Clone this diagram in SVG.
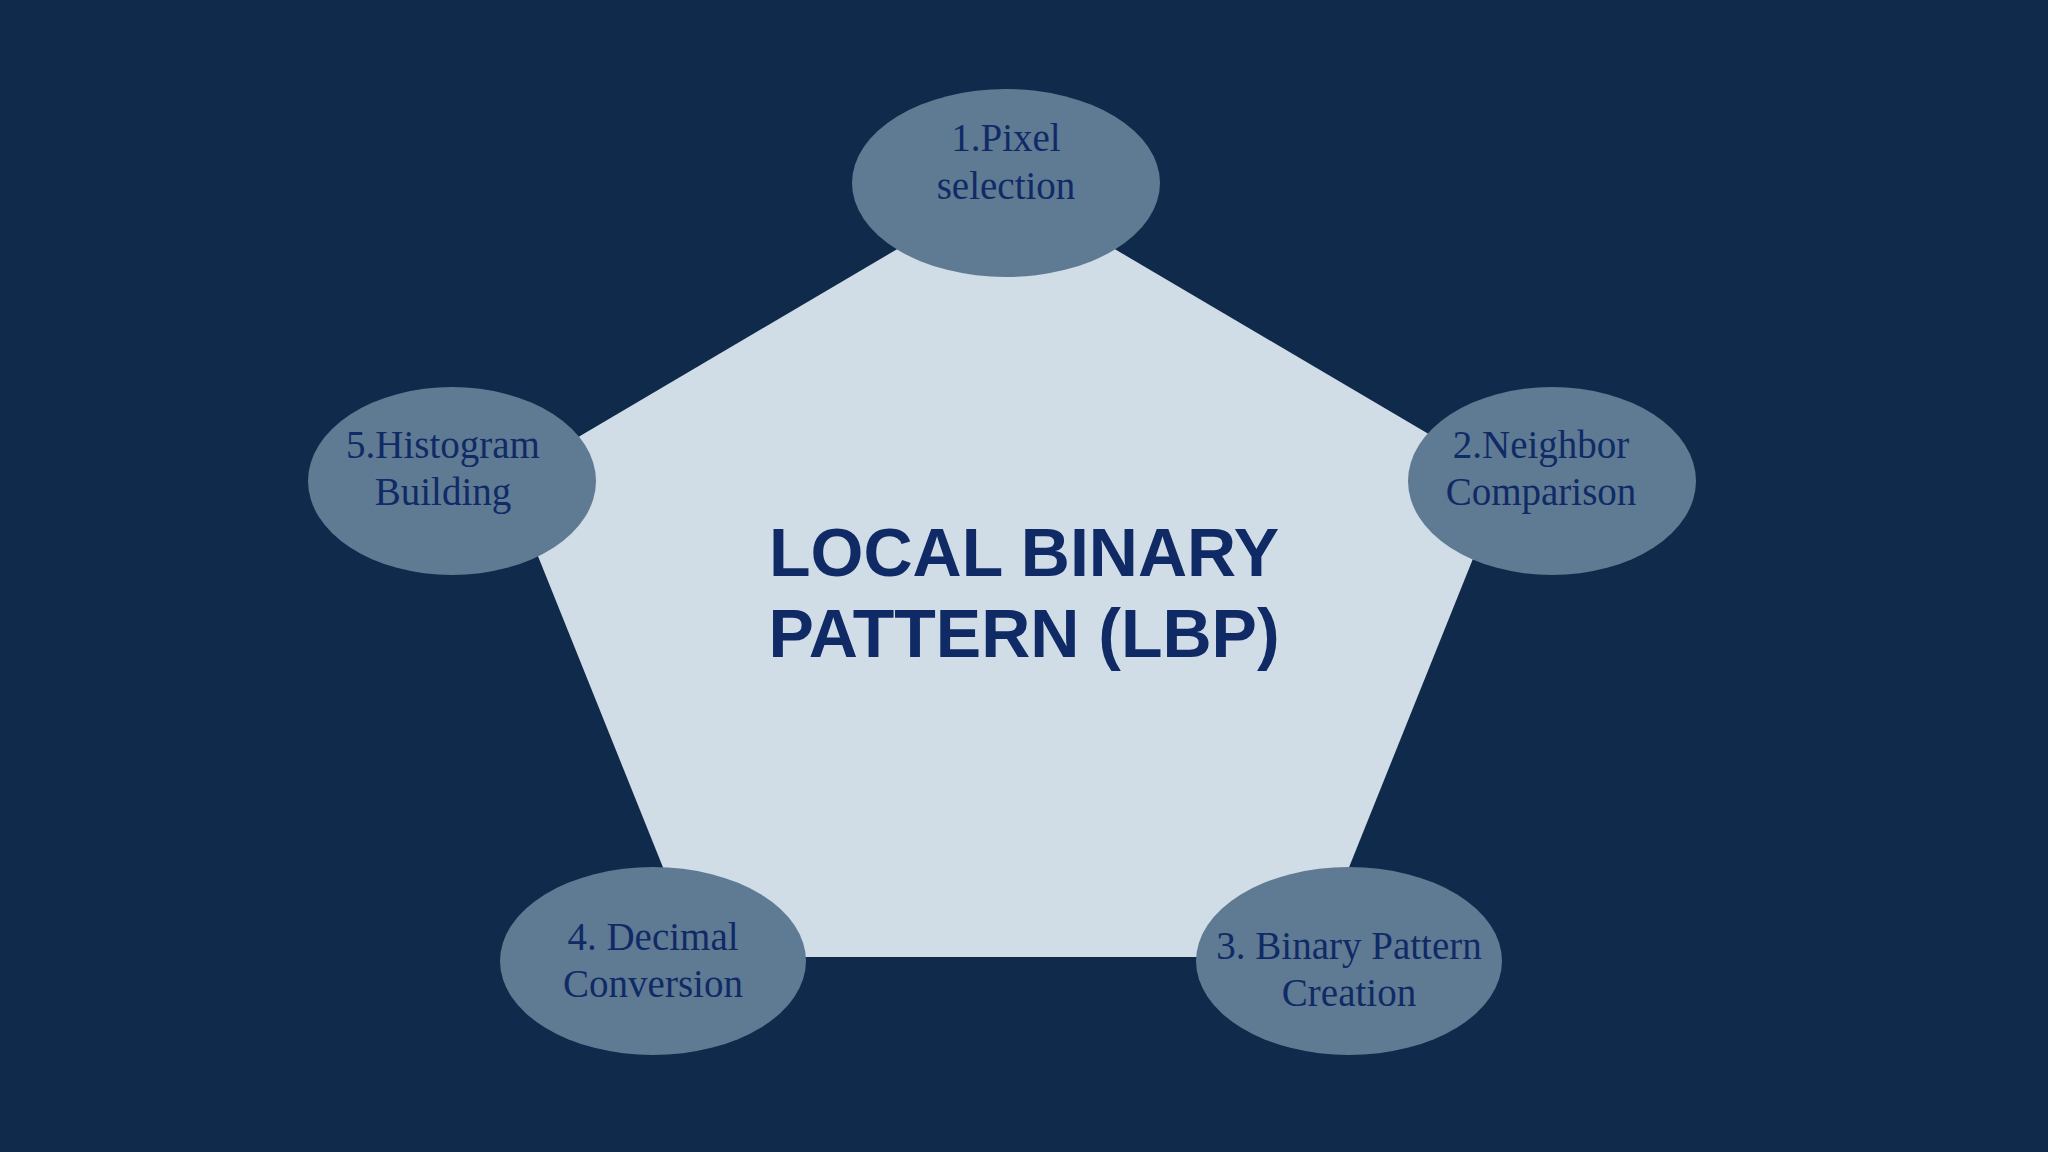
<svg xmlns="http://www.w3.org/2000/svg" width="2048" height="1152" viewBox="0 0 2048 1152">
<style>
.n{fill:#5f7a93}
.t{font-family:"Liberation Serif",serif;font-size:39px;fill:#102a66;text-anchor:middle}
.h{font-family:"Liberation Sans",sans-serif;font-weight:bold;font-size:68px;fill:#102a66;text-anchor:middle}
</style>
<rect width="2048" height="1152" fill="#0f2a4a"/>
<g id="center">
<polygon points="1006,185 1505,479 1313,957 699,957 507,479" fill="#d0dce6"/>
<text class="h" x="1024" y="576">LOCAL BINARY</text>
<text class="h" x="1024" y="657">PATTERN (LBP)</text>
</g>
<g id="connectors"/>
<g id="n1"><ellipse class="n" cx="1006" cy="183" rx="154" ry="94"/><text class="t" x="1006" y="151">1.Pixel</text><text class="t" x="1006" y="199">selection</text></g>
<g id="n2"><ellipse class="n" cx="1552" cy="481" rx="144" ry="94"/><text class="t" x="1541" y="458">2.Neighbor</text><text class="t" x="1541" y="505">Comparison</text></g>
<g id="n3"><ellipse class="n" cx="1349" cy="961" rx="153" ry="94"/><text class="t" x="1349" y="959">3. Binary Pattern</text><text class="t" x="1349" y="1006">Creation</text></g>
<g id="n4"><ellipse class="n" cx="653" cy="961" rx="153" ry="94"/><text class="t" x="653" y="950">4. Decimal</text><text class="t" x="653" y="997">Conversion</text></g>
<g id="n5"><ellipse class="n" cx="452" cy="481" rx="144" ry="94"/><text class="t" x="443" y="458">5.Histogram</text><text class="t" x="443" y="505">Building</text></g>
</svg>
